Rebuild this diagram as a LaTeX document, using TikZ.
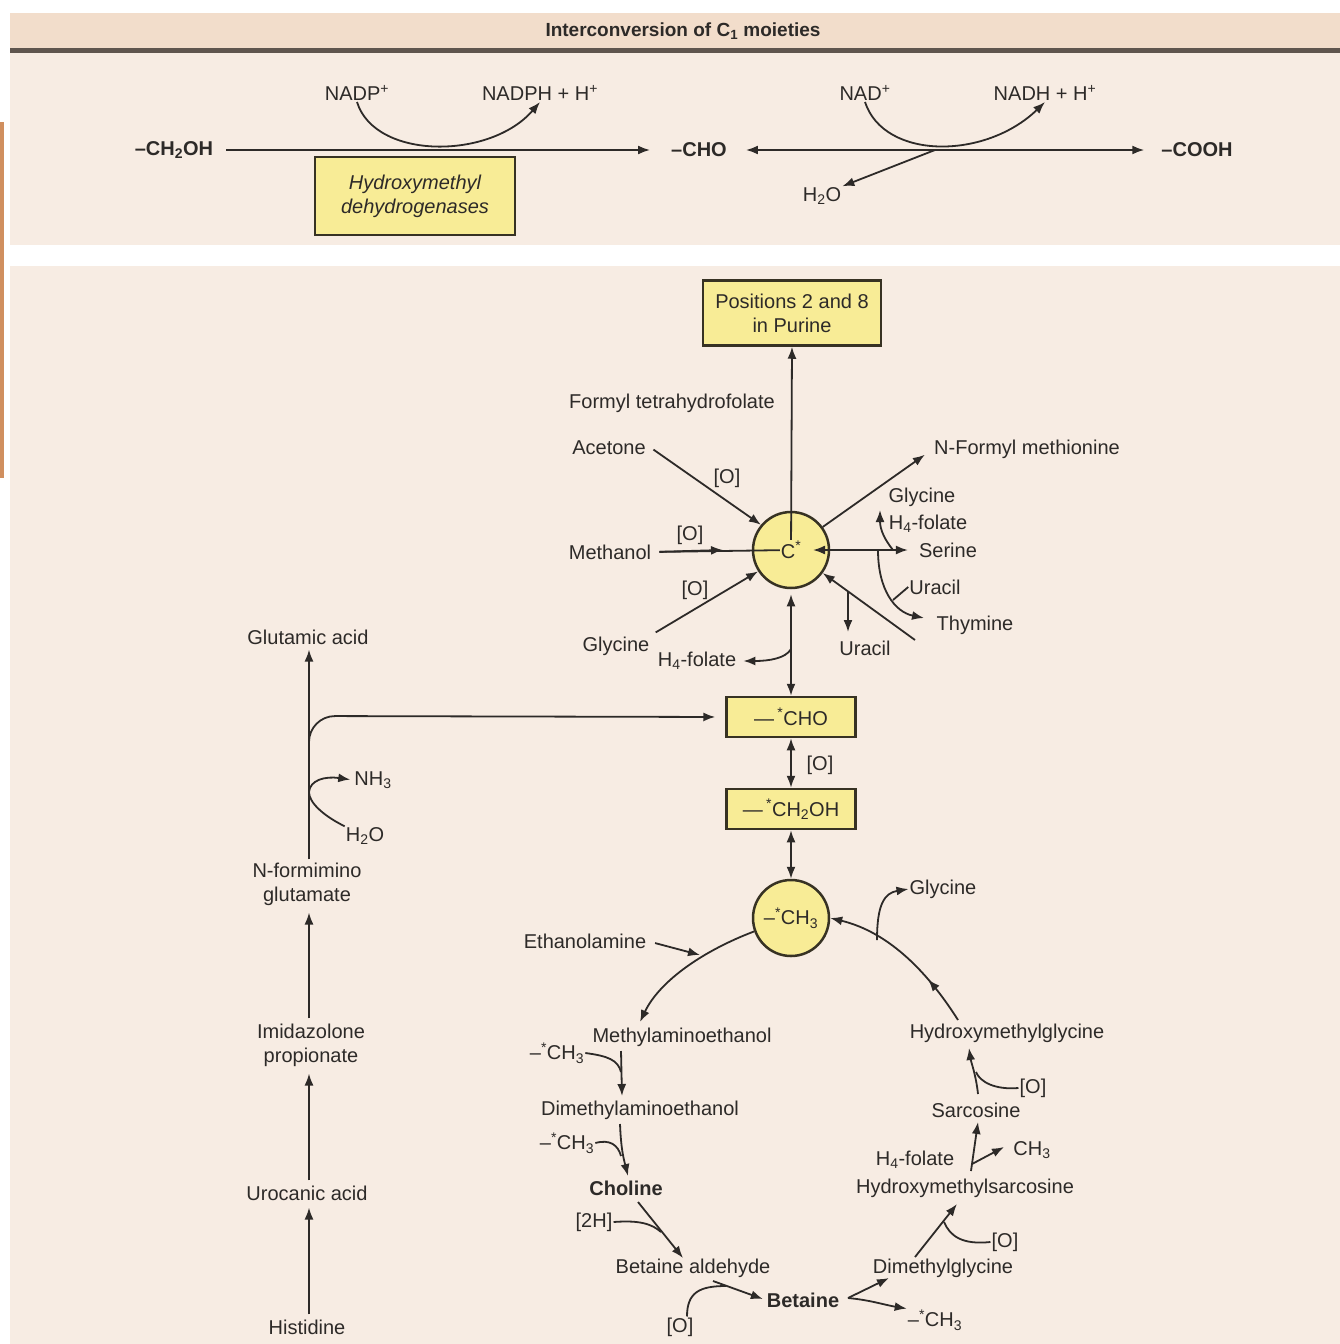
\documentclass[tikz,border=0pt]{standalone}
\usepackage{fontspec}
\setmainfont{Liberation Sans}
\usetikzlibrary{arrows.meta,decorations.markings,calc}
\definecolor{panel}{RGB}{247,236,227}
\definecolor{titlebg}{RGB}{242,221,203}
\definecolor{darkline}{RGB}{95,85,78}
\definecolor{yel}{RGB}{248,236,150}
\definecolor{boxc}{RGB}{55,50,35}
\definecolor{ink}{RGB}{45,42,40}
\definecolor{orng}{RGB}{208,143,95}
\begin{document}
\begin{tikzpicture}[x=1pt,y=-1pt,
 lbl/.style={font=\fontsize{20}{24}\selectfont, text=ink, inner sep=1pt, align=center},
 lblb/.style={lbl, font=\bfseries\fontsize{20}{24}\selectfont},
 ybox/.style={draw=boxc, fill=yel, line width=2.5pt, text=ink, font=\fontsize{20}{24}\selectfont, align=center, inner sep=2pt},
 ycirc/.style={circle, draw=boxc, fill=yel, line width=2.5pt, minimum size=76pt, inner sep=0pt},
 con/.style={draw=ink, line width=1.8pt},
 arr/.style={con, -{Latex[length=12pt,width=9pt]}},
 arrb/.style={con, {Latex[length=12pt,width=9pt]}-{Latex[length=12pt,width=9pt]}},
 midarr/.style={postaction={decorate}, decoration={markings, mark=at position #1 with {\arrow{Latex[length=12pt,width=9pt]}}}},
]
\useasboundingbox (0,0) rectangle (1340,1344);
% backgrounds
\fill[white] (0,0) rectangle (1340,1344);
\fill[panel] (10,53) rectangle (1340,245);
\fill[titlebg] (10,13) rectangle (1340,48);
\fill[darkline] (10,48) rectangle (1340,53);
\fill[panel] (10,266) rectangle (1340,1344);
\fill[orng] (0,122) rectangle (4,478);

% ---------- top panel ----------
\node[font=\bfseries\fontsize{19}{21}\selectfont, text=ink] (title) at (683,31) {Interconversion of C\textsubscript{1} moieties};
\node[lblb] (ch2oh) at (174,150) {--CH\textsubscript{2}OH};
\node[lbl] (nadp) at (357,93) {NADP\textsuperscript{+}};
\node[lbl] (nadph) at (540,93) {NADPH + H\textsuperscript{+}};
\node[lblb] (cho) at (699,150) {--CHO};
\node[lbl] (nad) at (865,93) {NAD\textsuperscript{+}};
\node[lbl] (nadh) at (1045,93) {NADH + H\textsuperscript{+}};
\node[lbl] (h2oa) at (822,196) {H\textsubscript{2}O};
\node[lblb] (cooh) at (1197,150) {--COOH};
\node[ybox, font=\itshape\fontsize{20}{24}\selectfont, minimum width=200pt, minimum height=78pt] (hmd) at (415,196) {Hydroxymethyl\\dehydrogenases};

\draw[arr, shorten <=12pt, shorten >=20pt] (ch2oh.east) -- (ch2oh.east -| cho.west);
\draw[arr] (nadp.south) .. controls (375,160) and (490,160) .. (nadph.south);
\draw[arrb, shorten <=18pt, shorten >=16pt] (cho.east) -- (cho.east -| cooh.west);
\coordinate (nadmid) at (935,150);
\draw[arr] (nad.south) .. controls (884,160) and (985,160) .. (nadh.south);
\draw[arr] (nadmid) -- (h2oa.north east);

% ---------- C* hub ----------
\node[ybox, minimum width=178pt, minimum height=65pt] (purine) at (792,313) {Positions 2 and 8\\in Purine};
\node[ycirc] (cstar) at (791,550) {};
\node[ybox, minimum width=129pt, minimum height=40pt] (chob) at (791,717) {---\,\textsuperscript{*}CHO};
\node[ybox, minimum width=129pt, minimum height=40pt] (ch2ohb) at (791,809) {---\,\textsuperscript{*}CH\textsubscript{2}OH};
\node[ycirc] (cmet) at (791,918) {};

\node[lbl] (ftf) at (672,403) {Formyl tetrahydrofolate};
\node[lbl] (acet) at (609,448) {Acetone};
\node[lbl] (meth) at (610,552) {Methanol};
\node[lbl] (glya) at (616,646) {Glycine};
\node[lbl] (h4fa) at (697,661) {H\textsubscript{4}-folate};
\node[lbl] (nfm) at (1027,449) {N-Formyl methionine};
\node[lbl] (glyb) at (922,497) {Glycine};
\node[lbl] (h4fb) at (928,524) {H\textsubscript{4}-folate};
\node[lbl] (ser) at (948,550) {Serine};
\node[lbl] (uraa) at (935,587) {Uracil};
\node[lbl] (thy) at (975,625) {Thymine};
\node[lbl] (urab) at (865,648) {Uracil};
\node[lbl] (oa) at (727,478) {[O]};
\node[lbl] (ob) at (690,535) {[O]};
\node[lbl] (oc) at (695,590) {[O]};
\node[lbl] (od) at (820,765) {[O]};

% connectors to C*
\draw[arr] (cstar.center) -- (purine.south);
\draw[arrb, shorten <=5pt] (cstar.south) -- (chob.north);
\draw[arrb] (chob.south) -- (ch2ohb.north);
\draw[arrb] (ch2ohb.south) -- (cmet.north);
\draw[arr, shorten <=8pt] ([yshift=3pt]acet.east) -- (cstar.140);
\draw[con, shorten <=7pt] (meth.east) -- (cstar.center);
\draw[arr, shorten <=7pt] (meth.east) -- ([xshift=-68pt]cstar.center);
\draw[arr, shorten <=6pt] (glya.north east) -- (cstar.213);
\draw[arr, shorten >=10pt] (cstar.36) -- (nfm.west);
\coordinate (rin) at (813,550);
\draw[arrb, shorten >=10pt] (rin) -- (ser.west);
\coordinate (thyst) at (915,640);
\draw[arr] (thyst) -- (cstar.-36);
\coordinate (ubr) at (848,591);
\draw[arr] (ubr) -- (848,632);
\coordinate (gbr) at (893,550);
\draw[arr] (gbr) .. controls (885,540) and (880,530) .. (880,510);
\coordinate (tbr) at (878,550);
\draw[arr] (tbr) .. controls (878,590) and (895,612) .. (924,618);
\draw[con] (uraa.west) -- (893,600);
\coordinate (vbr) at (791,649);
\draw[arr, shorten >=6pt] (vbr) .. controls (786,658) and (770,661) .. (h4fa.east);
\node[fill=yel, inner sep=1.5pt, lbl] (cstarlbl) at (cstar) {C\textsuperscript{*}};
\node[lbl] (cmetlbl) at (cmet) {--\textsuperscript{*}CH\textsubscript{3}};

% ---------- histidine chain ----------
\node[lbl] (glu) at (308,637) {Glutamic acid};
\node[lbl] (nfg) at (307,884) {N-formimino\\glutamate};
\node[lbl] (imp) at (311,1045) {Imidazolone\\propionate};
\node[lbl] (uro) at (307,1193) {Urocanic acid};
\node[lbl] (his) at (307,1327) {Histidine};
\node[lbl] (nh3) at (373,780) {NH\textsubscript{3}};
\node[lbl] (h2ob) at (365,836) {H\textsubscript{2}O};

\draw[arr, shorten <=4pt, shorten >=6pt] (his.north -| 309,0) -- (uro.south -| 309,0);
\draw[arr, shorten <=4pt, shorten >=6pt] (uro.north -| 309,0) -- (imp.south -| 309,0);
\draw[arr, shorten <=4pt, shorten >=6pt] (imp.north -| 309,0) -- (nfg.south -| 309,0);
\draw[arr, shorten <=2pt, shorten >=4pt] (nfg.north -| 309,0) -- (glu.south -| 309,0);
\draw[arr, rounded corners=26pt, shorten >=10pt] (309,770) -- (309,716) -- (chob.west);
\draw[arr, shorten >=3pt] (h2ob.north west) .. controls (322,815) and (309,802) .. (309,792) .. controls (310,780) and (325,776) .. (nh3.west);

% ---------- methyl cycle ----------
\node[lbl] (eth) at (585,941) {Ethanolamine};
\node[lbl] (mae) at (682,1037) {Methylaminoethanol};
\node[lbl] (ch3a) at (557,1053) {--\textsuperscript{*}CH\textsubscript{3}};
\node[lbl] (dmae) at (640,1110) {Dimethylaminoethanol};
\node[lbl] (ch3b) at (567,1143) {--\textsuperscript{*}CH\textsubscript{3}};
\node[lblb] (chol) at (626,1188) {Choline};
\node[lbl] (twoh) at (594,1222) {[2H]};
\node[lbl] (betal) at (693,1268) {Betaine aldehyde};
\node[lblb] (bet) at (803,1300) {Betaine};
\node[lbl] (oe) at (680,1327) {[O]};
\node[lbl] (ch3c) at (935,1320) {--\textsuperscript{*}CH\textsubscript{3}};
\node[lbl] (dmg) at (943,1268) {Dimethylglycine};
\node[lbl] (of) at (1005,1242) {[O]};
\node[lbl] (hms) at (965,1188) {Hydroxymethylsarcosine};
\node[lbl] (h4fc) at (915,1160) {H\textsubscript{4}-folate};
\node[lbl] (ch3d) at (1032,1150) {CH\textsubscript{3}};
\node[lbl] (sar) at (976,1110) {Sarcosine};
\node[lbl] (og) at (1033,1088) {[O]};
\node[lbl] (hmg) at (1007,1033) {Hydroxymethylglycine};
\node[lbl] (glyc) at (943,889) {Glycine};

% left arc
\coordinate (maetop) at (640,1022);
\draw[arr] (cmet.200) .. controls (705,950) and (660,980) .. (maetop);
\coordinate (ethtip) at (700,955);
\draw[arr, shorten <=8pt] (eth.east) -- (ethtip);
% Methylaminoethanol -> Dimethylaminoethanol
\coordinate (m1) at (621,1051);
\coordinate (m2) at (622,1096);
\draw[arr] (m1) -- (m2);
\draw[con] (ch3a.east) .. controls (608,1056) and (618,1060) .. (621,1072);
% Dimethylaminoethanol -> Choline
\coordinate (d1) at (620,1124);
\coordinate (d2) at (628,1176);
\draw[arr] (d1) .. controls (621,1150) and (624,1160) .. (d2);
\draw[con] (ch3b.east) .. controls (610,1139) and (618,1145) .. (621,1156);
% Choline -> Betaine aldehyde
\coordinate (c1) at (638,1202);
\coordinate (c2) at (683,1258);
\draw[arr] (c1) -- (c2);
\draw[con] (twoh.east) .. controls (640,1220) and (652,1224) .. (661,1232);
% Betaine aldehyde -> Betaine
\coordinate (b1) at (713,1281);
\draw[arr, shorten >=3pt] (b1) -- (bet.west);
\draw[con] (oe.north -| 687,0) .. controls (687,1292) and (700,1286) .. (726,1286);
% Betaine -> Dimethylglycine, -> CH3
\coordinate (bb) at (848,1298);
\draw[arr] (bb) -- (889,1278);
\draw[arr] (bb) .. controls (870,1300) and (885,1305) .. (ch3c.north west);
% Dimethylglycine -> Hydroxymethylsarcosine
\coordinate (g1) at (915,1257);
\coordinate (g2) at (957,1204);
\draw[arr] (g1) -- (g2);
\draw[con] (of.west) .. controls (962,1245) and (950,1236) .. (944,1222);
% Hydroxymethylsarcosine -> Sarcosine, CH3
\coordinate (s1) at (971,1171);
\coordinate (s2) at (978,1122);
\draw[arr] (s1) -- (s2);
\coordinate (s3) at (972,1164);
\draw[arr] (s3) -- (1004,1147);
% Sarcosine -> Hydroxymethylglycine
\coordinate (r1) at (978,1094);
\coordinate (r2) at (969,1048);
\draw[arr] (r1) .. controls (976,1075) and (971,1062) .. (r2);
\draw[con] (og.west) .. controls (995,1090) and (980,1082) .. (976,1072);
% Hydroxymethylglycine -> CH3 circle
\coordinate (h1) at (958,1020);
\draw[arr, midarr=0.3] (h1) .. controls (920,960) and (880,930) .. (cmet.east);
\coordinate (gg) at (877,940);
\draw[arr] (gg) .. controls (877,905) and (884,893) .. (glyc.west);
\end{tikzpicture}
\end{document}
